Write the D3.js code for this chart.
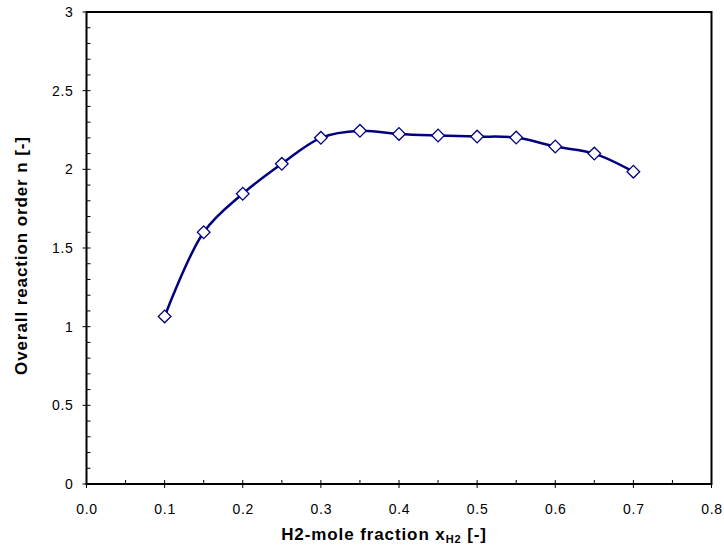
<!DOCTYPE html>
<html>
<head>
<meta charset="utf-8">
<script src="https://cdn.jsdelivr.net/npm/d3@7"></script>
<style>
  body { margin: 0; background: #fff; }
  svg text { font-family: "Liberation Sans", Arial, sans-serif; }
</style>
</head>
<body>
<div id="chart"></div>
<script>
// data
var xFraction = [0.10, 0.15, 0.20, 0.25, 0.30, 0.35, 0.40, 0.45, 0.50, 0.55, 0.60, 0.65, 0.70];
var reactionOrder = [1.065, 1.60, 1.845, 2.035, 2.20, 2.245, 2.225, 2.215, 2.208, 2.202, 2.145, 2.10, 1.985];
var xTicks = [0, 0.1, 0.2, 0.3, 0.4, 0.5, 0.6, 0.7, 0.8];
var yTicks = [0, 0.5, 1, 1.5, 2, 2.5, 3];

var svgWidth = 724;
var svgHeight = 551;
var margin = { top: 12, right: 12.5, bottom: 67, left: 86.5 };
var width = svgWidth - margin.left - margin.right;
var height = svgHeight - margin.top - margin.bottom;

var svg = d3.select("#chart")
  .append("svg")
  .attr("width", svgWidth)
  .attr("height", svgHeight);

var chartGroup = svg.append("g")
  .attr("transform", `translate(${margin.left}, ${margin.top})`);

var xScale = d3.scaleLinear().domain([0, 0.8]).range([0, width]);
var yScale = d3.scaleLinear().domain([0, 3]).range([height, 0]);

// minor ticks (inside)
var xMinor = d3.range(0.05, 0.8, 0.1);
var yMinor = d3.range(0.1, 3, 0.1).filter(v => Math.abs(v * 2 - Math.round(v * 2)) > 0.01);

chartGroup.selectAll(".xminor")
  .data(xMinor).enter().append("line")
  .attr("x1", d => xScale(d)).attr("x2", d => xScale(d))
  .attr("y1", height).attr("y2", height - 4)
  .attr("stroke", "#000").attr("stroke-width", 1);

chartGroup.selectAll(".yminor")
  .data(yMinor).enter().append("line")
  .attr("x1", 0).attr("x2", 4)
  .attr("y1", d => yScale(d)).attr("y2", d => yScale(d))
  .attr("stroke", "#000").attr("stroke-width", 1);

// major ticks (cross)
chartGroup.selectAll(".xmajor")
  .data(xTicks).enter().append("line")
  .attr("x1", d => xScale(d)).attr("x2", d => xScale(d))
  .attr("y1", height - 4).attr("y2", height + 4)
  .attr("stroke", "#000").attr("stroke-width", 1);

chartGroup.selectAll(".ymajor")
  .data(yTicks).enter().append("line")
  .attr("x1", -4).attr("x2", 4)
  .attr("y1", d => yScale(d)).attr("y2", d => yScale(d))
  .attr("stroke", "#000").attr("stroke-width", 1);

// tick labels
chartGroup.selectAll(".xlabel")
  .data(xTicks).enter().append("text")
  .attr("x", d => xScale(d) + 0.5)
  .attr("y", height + 30)
  .attr("text-anchor", "middle")
  .attr("font-size", "14px")
  .attr("letter-spacing", "0.7px")
  .text(d => d3.format(".1f")(d));

chartGroup.selectAll(".ylabel")
  .data(yTicks).enter().append("text")
  .attr("x", -13)
  .attr("y", d => yScale(d) + 5)
  .attr("text-anchor", "end")
  .attr("font-size", "14px")
  .attr("letter-spacing", "0.7px")
  .text(d => d);

// plot frame
chartGroup.append("rect")
  .attr("x", 0).attr("y", 0)
  .attr("width", width).attr("height", height)
  .attr("fill", "none")
  .attr("stroke", "#000")
  .attr("stroke-width", 2);

// smoothed line
var line = d3.line()
  .x((d, i) => xScale(xFraction[i]))
  .y(d => yScale(d))
  .curve(d3.curveCatmullRom.alpha(0.5));

chartGroup.append("path")
  .datum(reactionOrder)
  .attr("d", line)
  .attr("fill", "none")
  .attr("stroke", "#000080")
  .attr("stroke-width", 2.5);

// diamond markers
var diamond = d3.symbol().type(d3.symbolSquare).size(80);
chartGroup.selectAll(".marker")
  .data(reactionOrder).enter().append("path")
  .attr("d", diamond)
  .attr("transform", (d, i) => `translate(${xScale(xFraction[i])}, ${yScale(d)}) rotate(45)`)
  .attr("fill", "#fff")
  .attr("stroke", "#000080")
  .attr("stroke-width", 1.3);

// axis titles
var xTitle = svg.append("text")
  .attr("x", 384)
  .attr("y", 540)
  .attr("text-anchor", "middle")
  .attr("font-size", "17px")
  .attr("font-weight", "bold")
  .attr("letter-spacing", "0.9px");
xTitle.append("tspan").text("H2-mole fraction x");
xTitle.append("tspan").attr("font-size", "11px").attr("dy", 3).text("H2");
xTitle.append("tspan").attr("dy", -3).text(" [-]");

svg.append("text")
  .attr("transform", `translate(27, 256) rotate(-90)`)
  .attr("text-anchor", "middle")
  .attr("font-size", "17px")
  .attr("font-weight", "bold")
  .attr("textLength", 238)
  .attr("lengthAdjust", "spacing")
  .text("Overall reaction order n [-]");
</script>
</body>
</html>
